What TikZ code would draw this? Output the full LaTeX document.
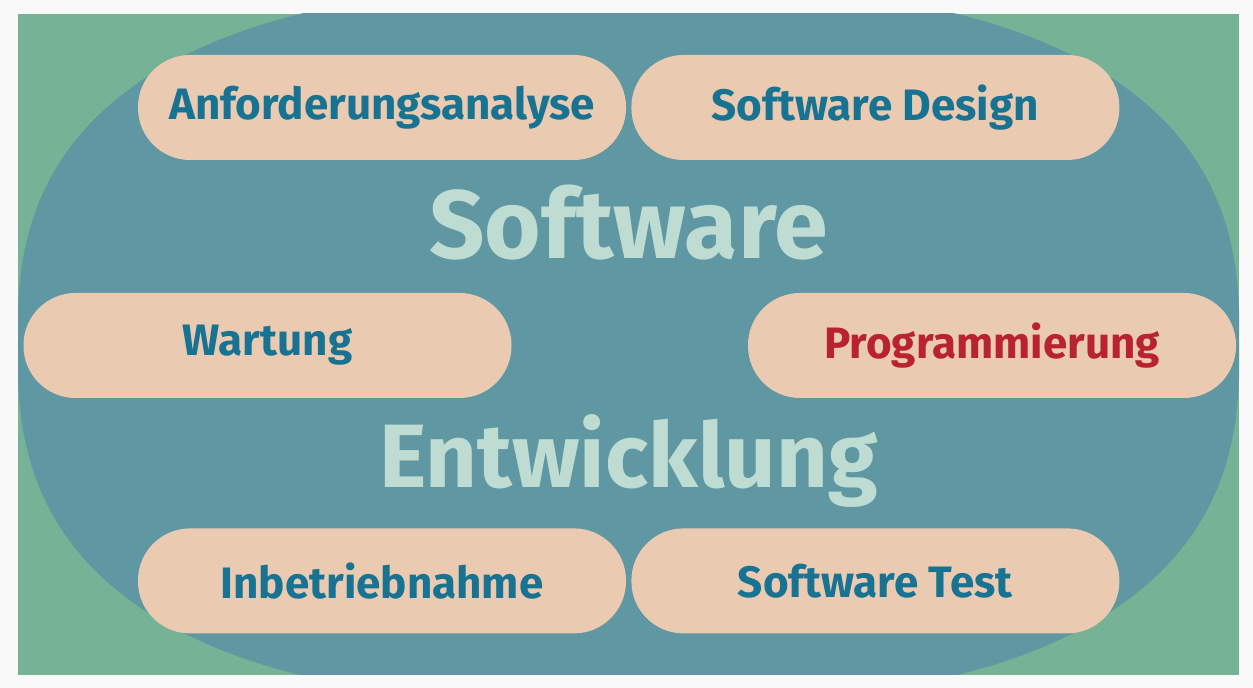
\documentclass[tikz,border=0pt]{standalone}
\usepackage{fontspec}
\setmainfont{Fira Sans}
\usetikzlibrary{positioning}

\definecolor{paper}{HTML}{F9F9F9}
\definecolor{meadow}{HTML}{76B296}
\definecolor{lake}{HTML}{5F97A2}
\definecolor{pill}{HTML}{EACAB0}
\definecolor{ink}{HTML}{187393}
\definecolor{alert}{HTML}{B8232F}
\definecolor{mint}{HTML}{BEDCD2}

\begin{document}
\begin{tikzpicture}[x=1pt,y=1pt]

        \tikzstyle{phase}=[shape=rectangle,rounded corners=52pt,minimum width=488pt,minimum height=105pt,inner sep=0pt,fill=pill,text=ink,font=\fontsize{44}{52}\selectfont\bfseries]
        \tikzstyle{title}=[text=mint,inner sep=0pt,anchor=base]

        \fill[paper] (0,0) rectangle (1253,688);
        \fill[meadow] (18,13) rectangle (1239,674);
        % squarish oval behind the phases
        \begin{scope}
          \clip (18,13) rectangle (1239,674);
          \fill[lake] plot[domain=0.5:359.5,samples=360]
            ({628.5+611*sign(cos(\x))*pow(abs(cos(\x)),0.769)},{343.5+360*sign(sin(\x))*pow(abs(sin(\x)),0.769)}) -- cycle;
        \end{scope}

        \node[phase] (A) at (382,580.5) {Anforderungsanalyse};
        \node[phase] (B) [right=5pt of A] {Software Design};
        \node[phase] (C) at (267.5,342.5) {Wartung};
        \node[phase,text=alert] (D) at (992,342.5) {Programmierung};
        \node[phase] (E) [below=368pt of A] {Inbetriebnahme};
        \node[phase] (F) [right=5pt of E] {Software Test};

        \node[title,font=\fontsize{97}{110}\selectfont\bfseries] (G) at (628.5,429) {Software};
        \node[title,font=\fontsize{90}{104}\selectfont\bfseries] (H) at (628.5,200) {Entwicklung};
      \end{tikzpicture}
\end{document}
